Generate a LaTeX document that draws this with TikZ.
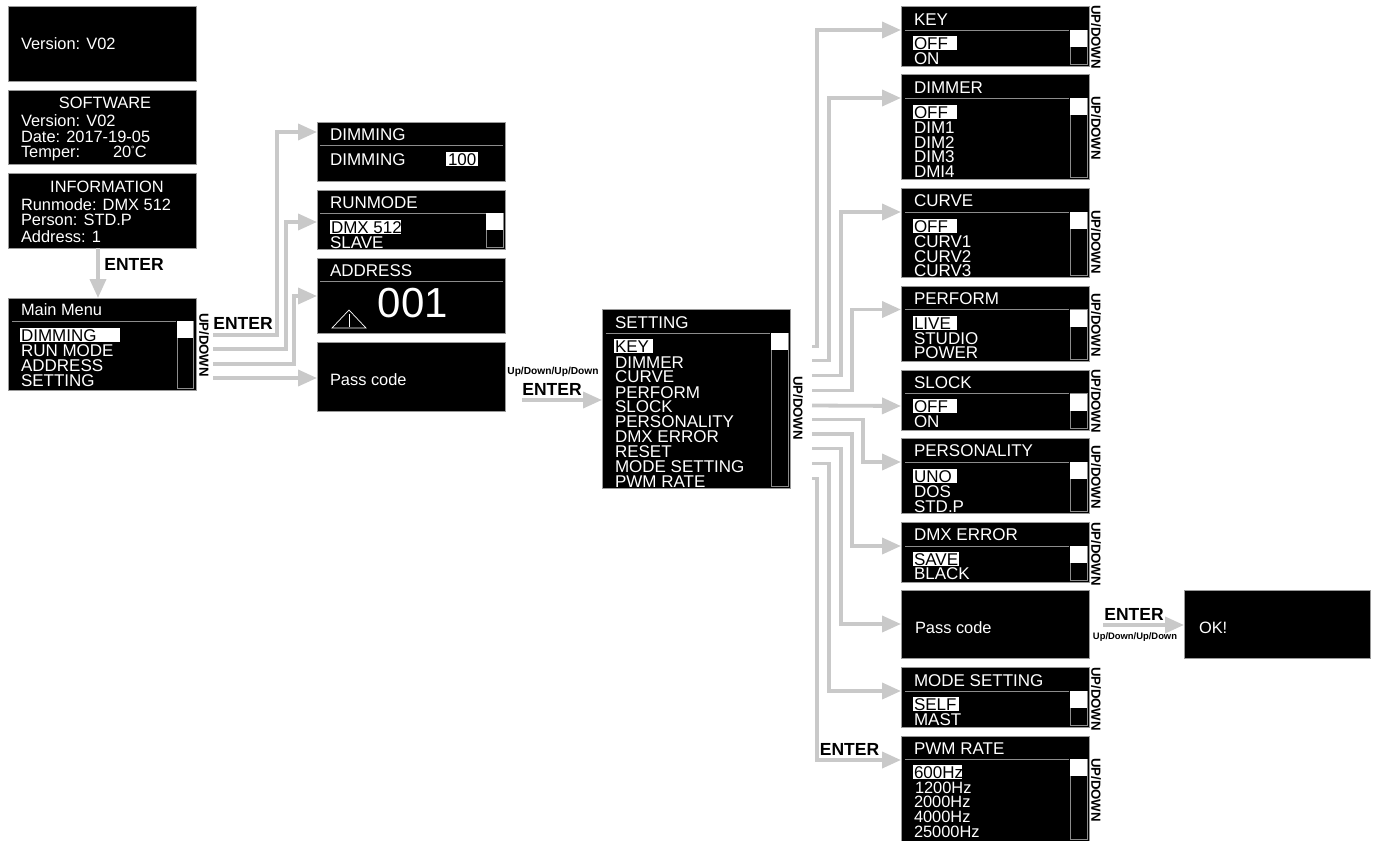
\documentclass[tikz,border=0pt]{standalone}
\usepackage{fontspec}
\setmainfont{Liberation Sans}
\usetikzlibrary{arrows.meta,calc}
\definecolor{conncol}{HTML}{C9C9C9}
\definecolor{barcol}{HTML}{8C8C8C}
\definecolor{edgecol}{HTML}{9A9A9A}
\newcounter{lblc}
\tikzset{
  screen/.style={fill=black,draw=edgecol,line width=0.5pt,inner sep=0pt,outer sep=0pt},
  lab/.style={inner sep=0pt,outer sep=0pt,text=white,font=\fontsize{17}{18}\selectfont,anchor=base west},
  labm/.style={lab,font=\fontsize{16.4}{17}\selectfont},
  bold/.style={inner sep=0pt,outer sep=0pt,text=black,font=\fontsize{17.5}{18}\selectfont\bfseries},
  tiny/.style={inner sep=0pt,outer sep=0pt,text=black,font=\fontsize{10.2}{11}\selectfont\bfseries},
  updown/.style={inner sep=0pt,outer sep=0pt,text=black,rotate=-90,font=\fontsize{13.2}{14}\selectfont\bfseries},
  conn/.style={draw=conncol,line width=3.8pt,line join=miter,-{Triangle[length=19pt,width=16pt,fill=conncol]}},
  hdr/.style={draw=barcol,line width=1pt},
  bar/.style={draw=barcol,line width=0.8pt,fill=black}
}
% #1 name, #2-#5 x0 y0 x1 y1
\newcommand\screenbox[5]{\node[screen,minimum width={(#4)-(#2)},minimum height={(#5)-(#3)}] (#1) at ({((#2)+(#4))/2},{((#3)+(#5))/2}) {};}
% x, centre y of capitals, text
\newcommand\txt[3]{\stepcounter{lblc}\node[lab] (t\arabic{lblc}) at ({#1},{#2+6.1}) {#3};}
\newcommand\txtm[3]{\stepcounter{lblc}\node[labm] (t\arabic{lblc}) at ({#1},{#2+5.9}) {#3};}
\newcommand\txtc[3]{\stepcounter{lblc}\node[labm,anchor=base] (t\arabic{lblc}) at (#1,{#2+5.9}) {#3};}
% x0 x1 yc x text
\newcommand\hitxt[5]{\fill[white] (#1,{#3-7}) rectangle (#2,{#3+7});\stepcounter{lblc}\node[lab,text=black] (t\arabic{lblc}) at (#4,{#3+6.1}) {#5};}
% header rule: x0 x1 y
\newcommand\rulehdr[3]{\draw[hdr] ({#1},#3) -- ({#2},#3);}
% scrollbar: x0 x1 y0 y1
\newcommand\scroll[4]{\draw[bar] ({#1},{#3}) rectangle ({#2},{#4});\fill[white] ({#1},{#3}) rectangle ({#2},{#3+17});}
% settings-style menu: name x0 y0 y1 liney title titley
\newcommand\menubox[7]{\screenbox{#1}{#2}{#3}{#2+188}{#4}
  \rulehdr{#2+4}{#2+168}{#5}
  \scroll{#2+169}{#2+186}{#5}{#4-2}
  \txt{#2+13}{#7}{#6}}
\newcommand\ud[2]{\stepcounter{lblc}\node[updown] (t\arabic{lblc}) at (#1,#2) {UP/DOWN};}
% start node, dx, dy, vertical x, target node, target dy from its north west
\newcommand\linkv[6]{\coordinate (tip) at ($(#5.north west)+(0,#6)$);
  \draw[conn] ($(#1.east)+(#2,#3)$) -| (#4,0 |- tip) -- (tip);}
\newcommand\linkh[5]{\coordinate (tip) at ($(#4.north west)+(0,#5)$);
  \draw[conn] ($(#1.east)+(#2,#3)$) -- (tip);}
\begin{document}
\begin{tikzpicture}[x=1pt,y=-1pt]
\useasboundingbox (0,0) rectangle (1377,841);
% left column
\screenbox{ver}{8}{6}{196}{81}
\txtm{21}{44}{Version: V02}
\screenbox{soft}{8}{90}{196}{164}
\txtc{105}{103}{SOFTWARE}
\txtm{21}{121}{Version: V02}
\txtm{21}{137}{Date: 2017-19-05}
\txtm{21}{152}{Temper:}
\txtm{113}{152}{20\raisebox{0.6ex}{\fontsize{9}{9}\selectfont\textdegree}C}
\screenbox{info}{8}{173}{196}{248}
\txtc{107}{187}{INFORMATION}
\txtm{21}{205}{Runmode: DMX 512}
\txtm{21}{220}{Person: STD.P}
\txtm{21}{237}{Address: 1}
\screenbox{main}{8}{298}{196}{390}
\rulehdr{12}{176}{321}
\scroll{177}{193}{321}{388}
\txtm{21}{310}{Main Menu}
\hitxt{20}{120}{335}{21}{DIMMING}
\txt{21}{350}{RUN MODE}
\txt{21}{365}{ADDRESS}
\txt{21}{380}{SETTING}
\ud{204}{345}
\draw[conn] ($(info.south)+(-4,0)$) -- ($(main.north)+(-4,0)$);
\node[bold] (e1) at (134,264) {ENTER};
\node[bold] (e2) at (243,323) {ENTER};
% second column
\screenbox{dim}{317}{122}{505}{181}
\rulehdr{320}{503}{145}
\txt{330}{134}{DIMMING}
\txt{330}{159}{DIMMING}
\hitxt{446}{478}{159}{448}{100}
\screenbox{run}{317}{190}{505}{249}
\rulehdr{320}{503}{213}
\scroll{486}{503}{213}{247}
\txt{330}{202}{RUNMODE}
\hitxt{330}{401}{227}{331}{DMX 512}
\txt{330}{242}{SLAVE}
\screenbox{addr}{317}{258}{505}{333}
\rulehdr{320}{503}{281.5}
\txt{330}{270}{ADDRESS}
\stepcounter{lblc}\node[lab,anchor=base,font=\fontsize{42}{44}\selectfont] (t\arabic{lblc}) at (413,317) {001};
\draw[white,line width=0.7pt,line join=miter] (332,328) -- (349,310) -- (366,328) -- cycle;
\draw[white,line width=1pt] (349,314) -- (349,327);
\screenbox{pass}{317}{342}{505}{411}
\txtm{330}{380}{Pass code}
\linkv{main}{17}{-9}{277}{dim}{10}
\linkv{main}{17}{5}{286}{run}{32}
\linkv{main}{17}{20}{294}{addr}{38}
\linkh{main}{17}{34}{pass}{36}
% setting
\menubox{setting}{602}{309}{488}{333}{SETTING}{322}
\hitxt{614}{653}{346}{615}{KEY}
\txt{615}{362}{DIMMER}
\txt{615}{376}{CURVE}
\txt{615}{392}{PERFORM}
\txt{615}{406}{SLOCK}
\txt{615}{421}{PERSONALITY}
\txt{615}{436}{DMX ERROR}
\txt{615}{451}{RESET}
\txt{615}{466}{MODE SETTING}
\txt{615}{481}{PWM RATE}
\ud{798}{408}
\node[tiny] (u1) at (553,372) {Up/Down/Up/Down};
\node[bold] (e3) at (552,389) {ENTER};
\coordinate (passout) at ($(pass.east)+(17,23.5)$);
\draw[conn] (passout) -- (passout -| setting.west);
% right column
\menubox{key}{901}{6}{66}{30}{KEY}{19}
\hitxt{913}{957}{43}{914}{OFF}
\txt{914}{58}{ON}
\ud{1096}{37}
\menubox{dimmer}{901}{74}{179}{98}{DIMMER}{87}
\hitxt{913}{957}{112}{914}{OFF}
\txt{914}{127}{DIM1}
\txt{914}{142}{DIM2}
\txt{914}{156}{DIM3}
\txt{914}{171}{DMI4}
\ud{1096}{128}
\menubox{curve}{901}{188}{277}{212}{CURVE}{200}
\hitxt{913}{957}{226}{914}{OFF}
\txt{914}{241}{CURV1}
\txt{914}{256}{CURV2}
\txt{914}{270}{CURV3}
\ud{1096}{242}
\menubox{perform}{901}{286}{361}{309.5}{PERFORM}{298}
\hitxt{913}{957}{323}{914}{LIVE}
\txt{914}{338}{STUDIO}
\txt{914}{352}{POWER}
\ud{1096}{325}
\menubox{slock}{901}{370}{430}{393.5}{SLOCK}{382}
\hitxt{913}{957}{406}{914}{OFF}
\txt{914}{421}{ON}
\ud{1096}{401}
\menubox{person}{901}{438}{513}{462}{PERSONALITY}{450}
\hitxt{913}{957}{476}{914}{UNO}
\txt{914}{491}{DOS}
\txt{914}{506}{STD.P}
\ud{1096}{477}
\menubox{dmx}{901}{522}{582}{546}{DMX ERROR}{534}
\hitxt{913}{959}{559}{914}{SAVE}
\txt{914}{573}{BLACK}
\ud{1096}{554}
\screenbox{pass2}{901}{590}{1089}{658}
\txtm{915}{628}{Pass code}
\screenbox{ok}{1184}{590}{1370}{658}
\txtm{1199}{628}{OK!}
\node[bold] (e4) at (1134,614) {ENTER};
\node[tiny,font=\fontsize{9.4}{10}\selectfont\bfseries] (u2) at (1135,637) {Up/Down/Up/Down};
\coordinate (p2out) at ($(pass2.east)+(14,1)$);
\draw[conn] (p2out) -- (p2out -| ok.west);
\menubox{mode}{901}{667}{727}{691}{MODE SETTING}{680}
\hitxt{913}{959}{704}{914}{SELF}
\txt{914}{719}{MAST}
\ud{1096}{699}
\menubox{pwm}{901}{736}{841}{759}{PWM RATE}{748}
\hitxt{913}{962}{772}{914}{600Hz}
\txtm{915}{788}{1200Hz}
\txtm{914}{802}{2000Hz}
\txtm{914}{817}{4000Hz}
\txtm{914}{832}{25000Hz}
\ud{1096}{790}
\node[bold] (e5) at (849.5,749) {ENTER};
% setting connectors
\linkv{setting}{22}{-52}{817}{key}{24}
\linkv{setting}{22}{-38}{829}{dimmer}{24}
\linkv{setting}{22}{-23}{841}{curve}{24}
\linkv{setting}{22}{-8}{852}{perform}{23.5}
\linkh{setting}{22}{7}{slock}{36}
\linkv{setting}{22}{21}{863}{person}{24}
\linkv{setting}{22}{35.5}{852}{dmx}{24}
\linkv{setting}{22}{50}{841}{pass2}{34}
\linkv{setting}{22}{65}{829}{mode}{24}
\linkv{setting}{22}{80}{817}{pwm}{24}
\end{tikzpicture}
\end{document}
